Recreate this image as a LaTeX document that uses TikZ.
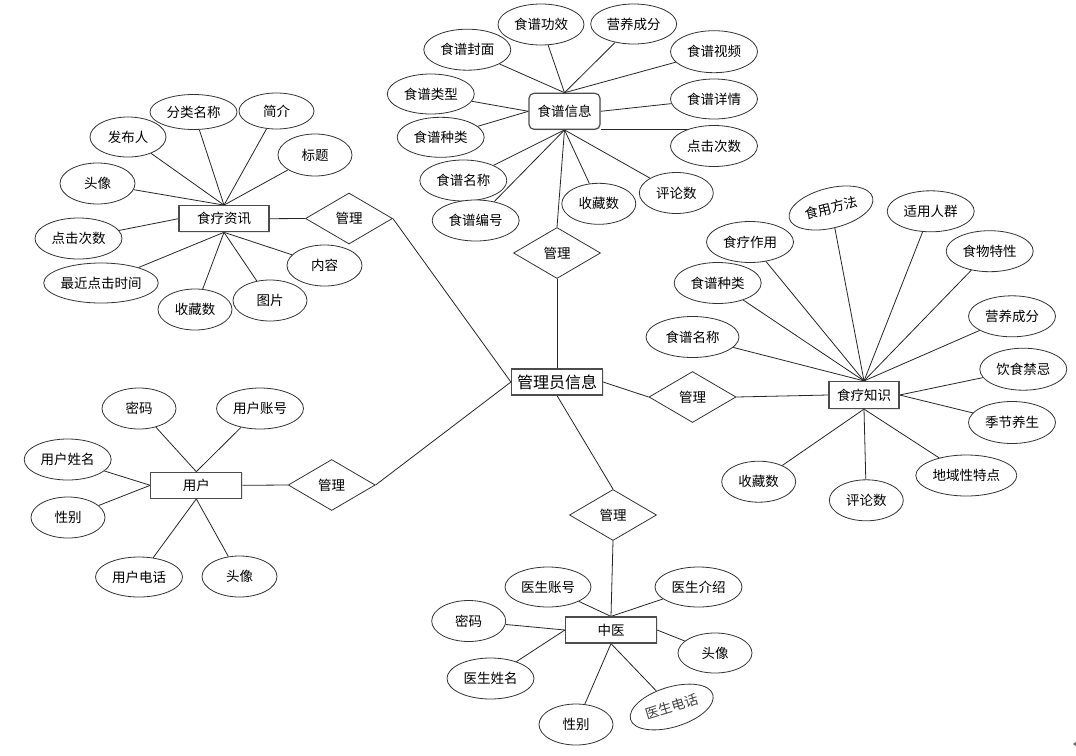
\documentclass[tikz,border=0pt]{standalone}
\usepackage{fontspec}
\newfontfamily\cjk{Noto Sans CJK SC}
\usetikzlibrary{shapes.geometric,backgrounds,shadows}
\begin{document}
\begin{tikzpicture}[x=1pt,y=-1pt,
  every node/.style={font=\cjk\fontsize{13.5}{16}\selectfont, text=black},
  attr/.style={ellipse, draw=black!80, line width=0.8pt, fill=white, inner sep=0pt, minimum width=87, minimum height=41},
  short/.style={attr, minimum width=74},
  ent/.style={rectangle, draw=black!70, line width=1.2pt, fill=white, inner sep=0pt, minimum width=91, minimum height=26,
    drop shadow={opacity=0.18, shadow xshift=1pt, shadow yshift=-1pt}},
  rel/.style={diamond, draw=black!80, line width=0.8pt, fill=white, inner sep=0pt, minimum width=87, minimum height=51},
  link/.style={draw=black!85, line width=0.8pt}]
\useasboundingbox (0,0) rectangle (1076,755);

% ---------- 食疗资讯 ----------
\node[ent, minimum width=90] (news) at (224,218.7) {食疗资讯};
\node[rel] (m1) at (349,218.5) {管理};
\node[short, minimum width=76, minimum height=40] (nfbr) at (128,137) {发布人};
\node[attr, minimum height=35] (nflmc) at (193.5,112) {分类名称};
\node[short, minimum width=75, minimum height=36] (njj) at (276.5,111) {简介};
\node[short, minimum height=42] (nbt) at (315,155) {标题};
\node[short, minimum width=75] (ntx) at (97.5,183.5) {头像};
\node[attr] (ndjcs) at (78.5,238.5) {点击次数};
\node[attr, minimum width=114, minimum height=40] (nzjdj) at (101,283) {最近点击时间};
\node[short, minimum width=75] (nnr) at (324.5,265.5) {内容};
\node[short] (ntp) at (270,300.5) {图片};
\node[short] (nscs) at (195,309.5) {收藏数};

% ---------- 食谱信息 ----------
\node[rectangle, rounded corners=5pt, draw=black!70, line width=1.2pt, fill=white, inner sep=0pt,
  minimum width=71, minimum height=36, drop shadow={opacity=0.18, shadow xshift=1pt, shadow yshift=-1pt}] (recipe) at (564.5,111.3) {食谱信息};
\node[attr, minimum width=86] (rgx) at (541,24.5) {食谱功效};
\node[attr, minimum width=86, minimum height=40] (ryy) at (633.7,24) {营养成分};
\node[attr] (rfm) at (467.3,49.7) {食谱封面};
\node[attr, minimum height=42] (rsp) at (714,51.7) {食谱视频};
\node[attr, minimum height=40] (rlx) at (430.8,94) {食谱类型};
\node[attr, minimum height=40] (rxq) at (714,99) {食谱详情};
\node[attr, minimum height=40] (rzl) at (440.7,137.3) {食谱种类};
\node[attr] (rdj) at (714,146) {点击次数};
\node[attr] (rmc) at (463.3,180.5) {食谱名称};
\node[short] (rsc) at (598.8,203.8) {收藏数};
\node[short] (rpl) at (676.3,193) {评论数};
\node[attr] (rbh) at (475.7,220.5) {食谱编号};
\node[rel] (m2) at (557,253) {管理};

% ---------- 管理员信息 ----------
\node[ent, font=\cjk\fontsize{16}{18}\selectfont] (admin) at (557,382) {管理员信息};
\node[rel] (m3) at (692.5,397) {管理};
\node[rel] (m4) at (613,515) {管理};

% ---------- 食疗知识 ----------
\node[ent, minimum width=70, minimum height=27] (know) at (864,395) {食疗知识};
\node[attr] (kzy) at (750,242) {食疗作用};
\node[attr, minimum width=86, minimum height=40, rotate=14] (kff) at (831,208) {食用方法};
\node[attr] (krq) at (930.7,211.3) {适用人群};
\node[attr] (ktx) at (989.7,251.2) {食物特性};
\node[attr] (kzl) at (717.7,283) {食谱种类};
\node[attr] (kyy) at (1012,316.3) {营养成分};
\node[attr, minimum width=93] (kmc) at (692.5,337) {食谱名称};
\node[attr, minimum height=42] (kjj) at (1023.3,369.2) {饮食禁忌};
\node[attr, minimum height=42] (kjy) at (1012,422.5) {季节养生};
\node[attr, minimum width=101] (kdy) at (966.3,475.5) {地域性特点};
\node[short] (ksc) at (758.7,481.7) {收藏数};
\node[short] (kpl) at (866.3,500.3) {评论数};

% ---------- 用户 ----------
\node[ent] (user) at (196.3,485.3) {用户};
\node[rel] (m5) at (331.7,485) {管理};
\node[short] (umm) at (139,408.5) {密码};
\node[attr] (uzh) at (260,408.5) {用户账号};
\node[attr] (uxm) at (67.7,459.5) {用户姓名};
\node[short] (uxb) at (68,517.5) {性别};
\node[attr, minimum height=40] (udh) at (139,577) {用户电话};
\node[short, minimum width=75] (utx) at (239.5,576.5) {头像};

% ---------- 中医 ----------
\node[ent] (tcm) at (611,630) {中医};
\node[attr, minimum width=86, minimum height=40] (tzh) at (548,587) {医生账号};
\node[attr, minimum height=40] (tjs) at (698.5,587) {医生介绍};
\node[short] (tmm) at (468.7,621) {密码};
\node[short, minimum height=40] (ttx) at (715,653) {头像};
\node[attr] (txm) at (490.5,678.5) {医生姓名};
\node[short] (txb) at (576,724.5) {性别};
\node[attr, minimum width=86, minimum height=40, rotate=17] (tdh) at (671.7,707) {\color{black!75}医生电话};

% scrollbar mark
\fill[black!55] (1073,744) -- (1076,741.5) -- (1076,746.5) -- cycle;

\begin{scope}[on background layer]
  \fill[white] (0,0) rectangle (1076,755);
  % 食疗资讯
  \foreach \a in {nfbr,nflmc,njj,nbt,ntx} \path[link] (news.north) -- (\a);
  \path[link] (news.west) -- (ndjcs);
  \foreach \a in {nzjdj,nscs,ntp,nnr} \path[link] (news.south) -- (\a);
  \path[link] (news.east) -- (m1.west);
  \path[link] (m1.east) -- (admin.west);
  % 食谱信息
  \foreach \a in {rgx,ryy,rfm,rsp} \path[link] (recipe.north) -- (\a);
  \foreach \a in {rlx,rzl} \path[link] (recipe.west) -- (\a);
  \path[link] (recipe.east) -- (rxq);
  \path[link] ([yshift=1pt]recipe.south east) -- ([yshift=1pt]recipe.south east -| rdj.north);
  \foreach \a in {rmc,rbh,rsc,rpl} \path[link] (recipe.south) -- (\a);
  \path[link] (m2.north) -- (recipe.south);
  \path[link] (admin.north) -- (m2.south);
  % 食疗知识
  \path[link] (admin.east) -- (m3.west);
  \path[link] (m3.east) -- (know.west);
  \foreach \a in {kzy,kff,krq,ktx,kzl,kmc,kyy} \path[link] (know.north) -- (\a);
  \foreach \a in {kjj,kjy} \path[link] (know.east) -- (\a);
  \foreach \a in {ksc,kpl,kdy} \path[link] (know.south) -- (\a);
  % 用户
  \foreach \a in {umm,uzh} \path[link] (user.north) -- (\a);
  \foreach \a in {uxm,uxb} \path[link] (user.west) -- (\a);
  \foreach \a in {udh,utx} \path[link] (user.south) -- (\a);
  \path[link] (user.east) -- (m5.west);
  \path[link] (m5.east) -- (admin.west);
  % 中医
  \path[link] (admin.south) -- (m4.north);
  \path[link] (m4.south) -- (tcm.north);
  \foreach \a in {tzh,tjs} \path[link] (tcm.north) -- (\a);
  \foreach \a in {tmm,txm} \path[link] (tcm.west) -- (\a);
  \path[link] (tcm.east) -- (ttx);
  \foreach \a in {txb,tdh} \path[link] (tcm.south) -- (\a);
\end{scope}
\end{tikzpicture}
\end{document}
